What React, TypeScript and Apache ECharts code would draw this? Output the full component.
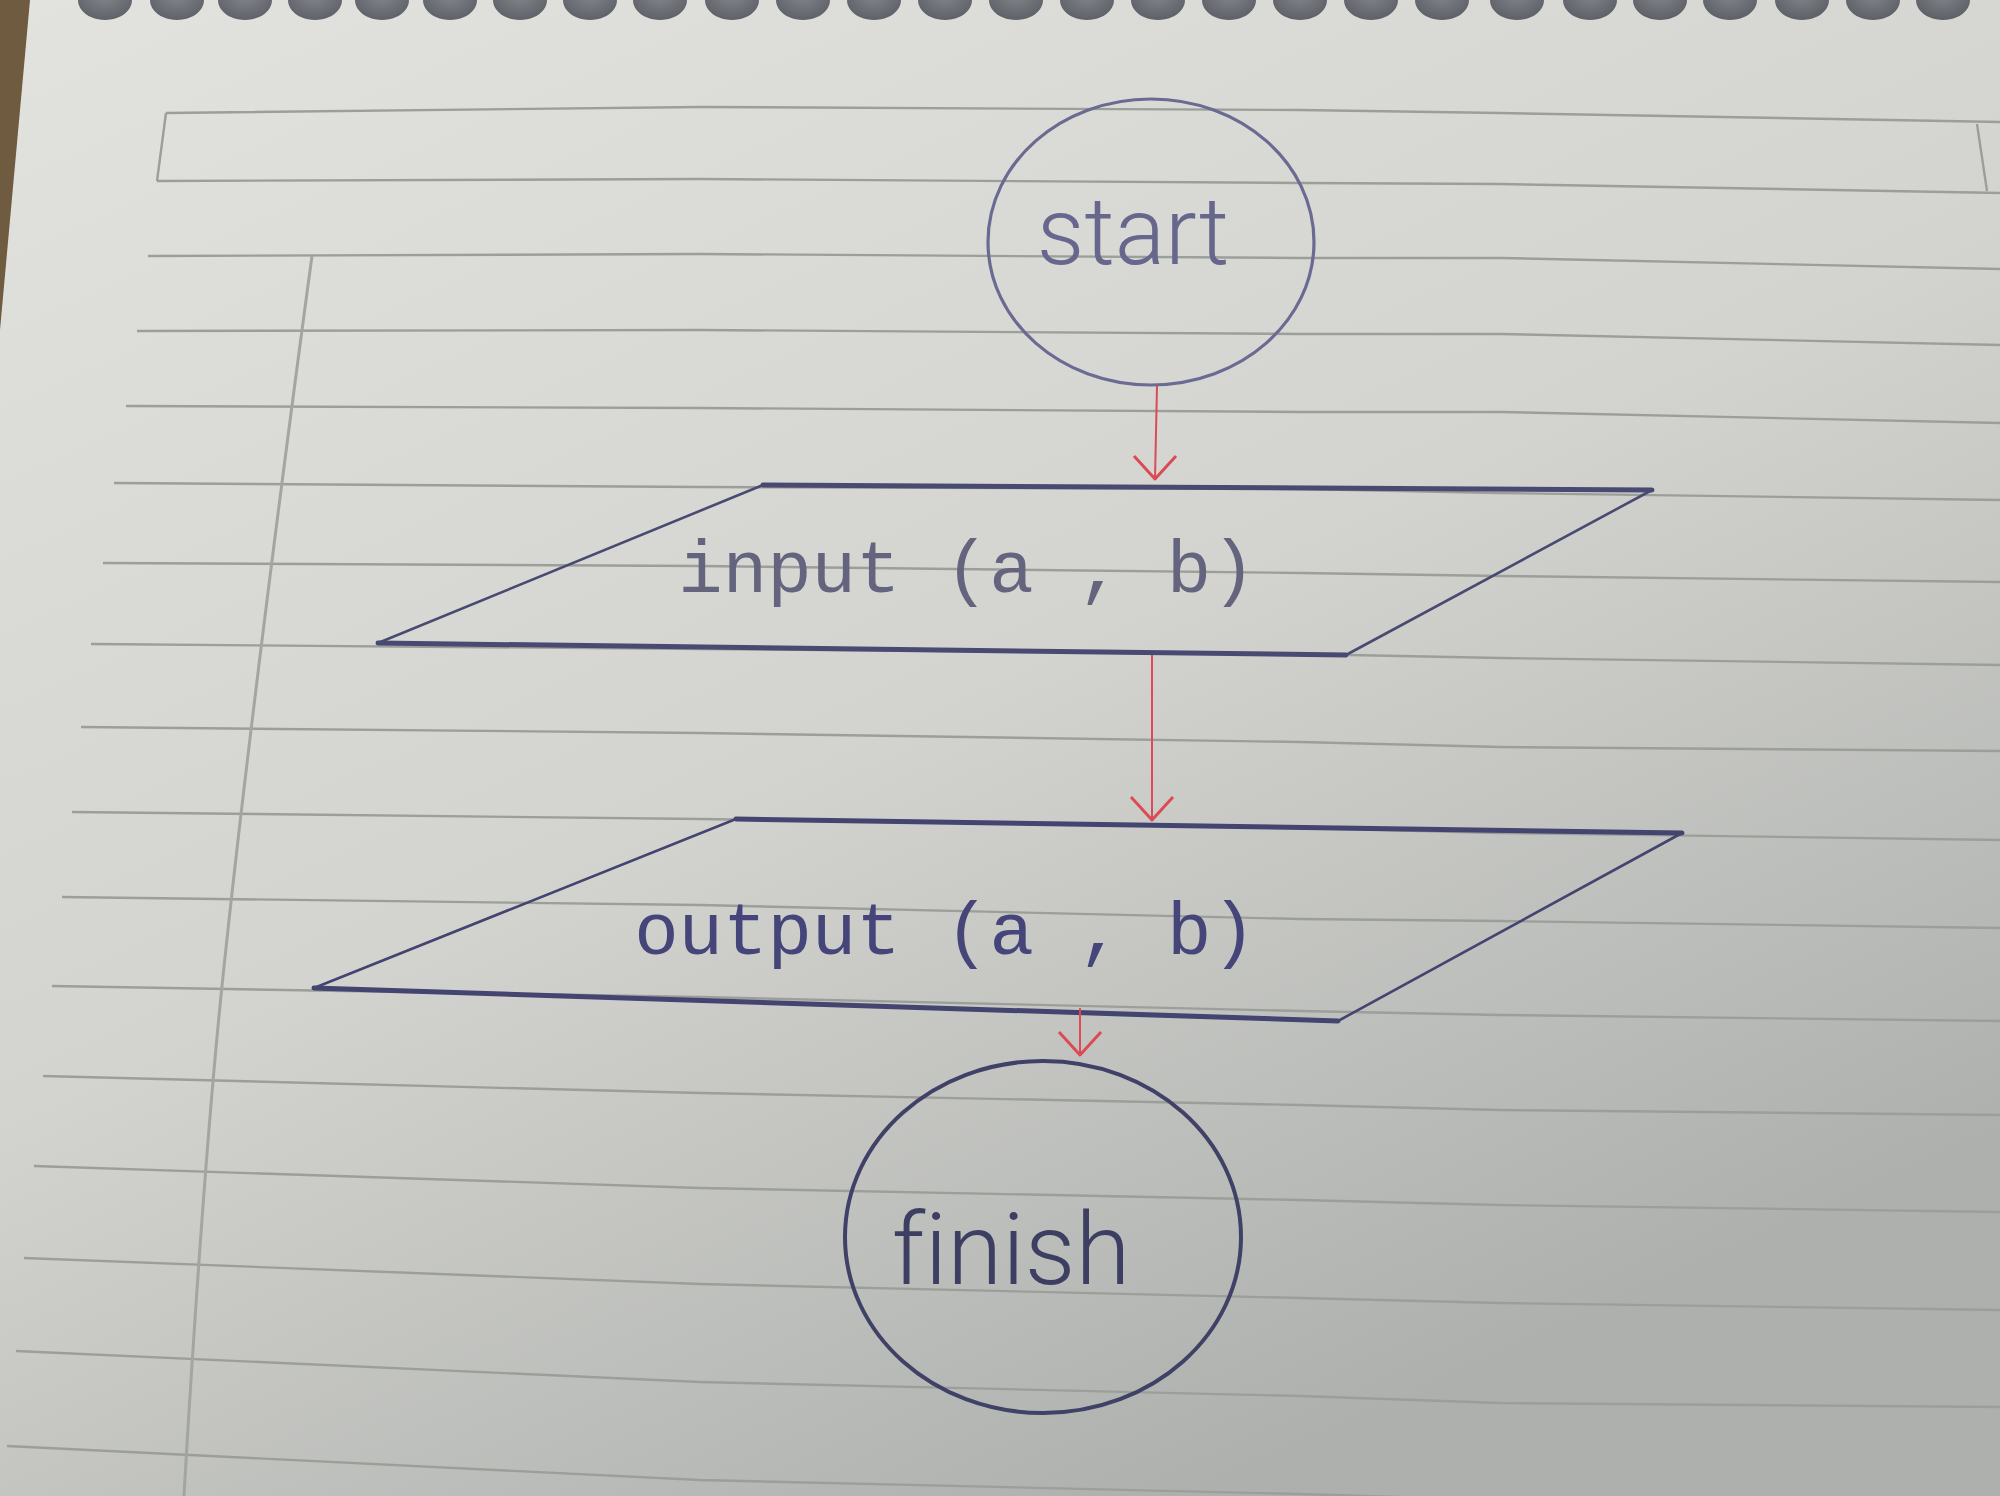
import React, { useEffect, useRef } from "react";
import * as echarts from "echarts";

// ruled lines of the notebook page, read at a few x positions
const ruleStartX = [166, 157, 148, 137, 126, 114, 103, 91, 81, 72, 62, 52, 43, 34, 24, 16, 7];
const ruleYStart = [113, 181, 256, 331, 406, 483, 563, 644, 727, 812, 897, 986, 1076, 1166, 1258, 1351, 1446];
const ruleY700 = [107, 179, 254, 330, 408, 487, 566, 649, 733, 819, 905, 997, 1093, 1188, 1284, 1382, 1480];
const ruleY1300 = [110, 183, 258, 334, 412, 489, 573, 654, 742, 828, 919, 1011, 1105, 1200, 1298, 1396, 1494];
const ruleY1500 = [113, 184, 258, 334, 412, 493, 576, 658, 747, 833, 921, 1015, 1110, 1205, 1303, 1403, 1500];
const ruleY2000 = [122, 193, 269, 345, 423, 500, 582, 665, 751, 840, 928, 1021, 1115, 1212, 1310, 1407, 1505];

// short sides of the header box
const headerSides = [
  [166, 113, 157, 181],
  [1977, 124, 1987, 191],
];

// left margin line
const marginLine = [
  [312, 256],
  [222, 986],
  [184, 1496],
];

// spiral binding holes along the top edge
const holeX = [
  105, 177, 245, 315, 382, 450, 520, 590, 660, 732, 803, 874, 945, 1016, 1087, 1158, 1229, 1300,
  1371, 1442, 1517, 1590, 1660, 1730, 1802, 1873, 1943, 2012,
];

// flowchart nodes
const ovalNodes = [
  [1151, 242, 163, 143], // start
  [1043, 1237, 198, 176], // finish
];
const ioNodes = [
  [763, 485, 1652, 490, 1346, 655, 378, 643], // input
  [736, 819, 1682, 833, 1338, 1021, 314, 988], // output
];
const arrows = [
  [1157, 386, 1155, 479],
  [1152, 655, 1152, 820],
  [1080, 1008, 1080, 1055],
];
const labels = ["start", "input (a , b)", "output (a , b)", "finish"];
const labelAt = [
  [1133, 232],
  [967, 572],
  [945, 934],
  [1011, 1249],
];

const ovalColors = ["#6a6a92", "#3f4166"];
const ioColors = ["#494a72", "#43446f"];
const labelStyles = [
  { font: "Roboto", size: 94, weight: 300, color: "#67678d" },
  { font: "Liberation Mono", size: 74, weight: 400, color: "#64647e" },
  { font: "Liberation Mono", size: 74, weight: 400, color: "#45457a" },
  { font: "Roboto", size: 100, weight: 300, color: "#3d3f62" },
];

function App() {
  const chartRef = useRef<HTMLDivElement>(null);

  useEffect(() => {
    const chart = echarts.init(chartRef.current!, null, { renderer: "svg" });

    const option: echarts.EChartsOption = {
      animation: false,
      grid: { left: 0, right: 0, top: 0, bottom: 0 },
      xAxis: { type: "value", min: 0, max: 2000, show: false },
      yAxis: { type: "value", min: 0, max: 1496, inverse: true, show: false },
      graphic: [
        {
          type: "rect",
          z: -10,
          shape: { x: 0, y: 0, width: 2000, height: 1496 },
          style: {
            fill: new echarts.graphic.LinearGradient(0, 0, 0.6, 1, [
              { offset: 0, color: "#e2e3df" },
              { offset: 0.55, color: "#d3d4d0" },
              { offset: 1, color: "#aeb0ad" },
            ]),
          },
        },
        {
          type: "polygon",
          z: -9,
          shape: { points: [[0, 0], [30, 0], [20, 110], [0, 330]] },
          style: { fill: "#6f5b40" },
        },
      ],
      series: [
        {
          type: "custom",
          name: "rules",
          coordinateSystem: "cartesian2d",
          silent: true,
          clip: false,
          data: ruleStartX.map((x, i) => [x, ruleYStart[i], ruleY700[i], ruleY1300[i], ruleY1500[i], ruleY2000[i]]),
          renderItem: (params: any, api: any) => {
            const pts = [
              api.coord([api.value(0), api.value(1)]),
              api.coord([700, api.value(2)]),
              api.coord([1300, api.value(3)]),
              api.coord([1500, api.value(4)]),
              api.coord([2000, api.value(5)]),
            ];
            return {
              type: "polyline",
              shape: { points: pts },
              style: { stroke: "#9c9e9a", lineWidth: 2.4, fill: "none" },
            };
          },
        },
        {
          type: "custom",
          name: "header",
          coordinateSystem: "cartesian2d",
          silent: true,
          clip: false,
          data: headerSides,
          renderItem: (params: any, api: any) => {
            const a = api.coord([api.value(0), api.value(1)]);
            const b = api.coord([api.value(2), api.value(3)]);
            return {
              type: "line",
              shape: { x1: a[0], y1: a[1], x2: b[0], y2: b[1] },
              style: { stroke: "#9c9e9a", lineWidth: 2.4 },
            };
          },
        },
        {
          type: "line",
          name: "margin",
          data: marginLine,
          showSymbol: false,
          smooth: 0.4,
          silent: true,
          lineStyle: { color: "#a3a5a1", width: 3 },
        },
        {
          type: "scatter",
          name: "holes",
          data: holeX.map((x) => [x, 0]),
          symbol: "circle",
          symbolSize: [54, 40],
          silent: true,
          itemStyle: {
            color: new echarts.graphic.RadialGradient(0.5, 0.4, 0.6, [
              { offset: 0, color: "#6b6e76" },
              { offset: 1, color: "#3f424b" },
            ]),
          },
        },
        {
          type: "custom",
          name: "ovals",
          coordinateSystem: "cartesian2d",
          clip: false,
          data: ovalNodes,
          renderItem: (params: any, api: any) => {
            const c = api.coord([api.value(0), api.value(1)]);
            const s = api.size([api.value(2), api.value(3)]);
            return {
              type: "ellipse",
              shape: { cx: c[0], cy: c[1], rx: s[0], ry: s[1] },
              style: { stroke: ovalColors[params.dataIndex], lineWidth: params.dataIndex ? 4 : 3.2, fill: "none" },
            };
          },
        },
        {
          type: "custom",
          name: "io",
          coordinateSystem: "cartesian2d",
          clip: false,
          data: ioNodes,
          renderItem: (params: any, api: any) => {
            const c = [0, 1, 2, 3].map((k) => api.coord([api.value(2 * k), api.value(2 * k + 1)]));
            const color = ioColors[params.dataIndex];
            const edge = (p: number[], q: number[], w: number) => ({
              type: "line",
              shape: { x1: p[0], y1: p[1], x2: q[0], y2: q[1] },
              style: { stroke: color, lineWidth: w, lineCap: "round" },
            });
            return {
              type: "group",
              children: [edge(c[0], c[1], 5), edge(c[1], c[2], 2.6), edge(c[2], c[3], 5), edge(c[3], c[0], 2.6)],
            };
          },
        },
        {
          type: "custom",
          name: "arrows",
          coordinateSystem: "cartesian2d",
          clip: false,
          data: arrows,
          renderItem: (params: any, api: any) => {
            const a = api.coord([api.value(0), api.value(1)]);
            const b = api.coord([api.value(2), api.value(3)]);
            const stroke = "#dc4a55";
            return {
              type: "group",
              children: [
                {
                  type: "line",
                  shape: { x1: a[0], y1: a[1], x2: b[0], y2: b[1] },
                  style: { stroke, lineWidth: 2 },
                },
                {
                  type: "polyline",
                  shape: {
                    points: [
                      [b[0] - 21, b[1] - 23],
                      [b[0], b[1]],
                      [b[0] + 21, b[1] - 23],
                    ],
                  },
                  style: { stroke, lineWidth: 3, fill: "none", lineJoin: "round" },
                },
              ],
            };
          },
        },
        {
          type: "custom",
          name: "labels",
          coordinateSystem: "cartesian2d",
          clip: false,
          data: labelAt,
          renderItem: (params: any, api: any) => {
            const c = api.coord([api.value(0), api.value(1)]);
            const st = labelStyles[params.dataIndex];
            return {
              type: "text",
              x: c[0],
              y: c[1],
              style: {
                text: labels[params.dataIndex],
                fontFamily: st.font,
                fontSize: st.size,
                fontWeight: st.weight,
                fill: st.color,
                align: "center",
                verticalAlign: "middle",
              },
            };
          },
        },
      ],
    };

    chart.setOption(option);

    return () => {
      chart.dispose();
    };
  }, []);

  return (
    <div
      ref={chartRef}
      style={{
        position: "fixed",
        left: 0,
        top: 0,
        width: "2000px",
        height: "1496px",
        fontVariantLigatures: "none",
      }}
    />
  );
}

export default App;
